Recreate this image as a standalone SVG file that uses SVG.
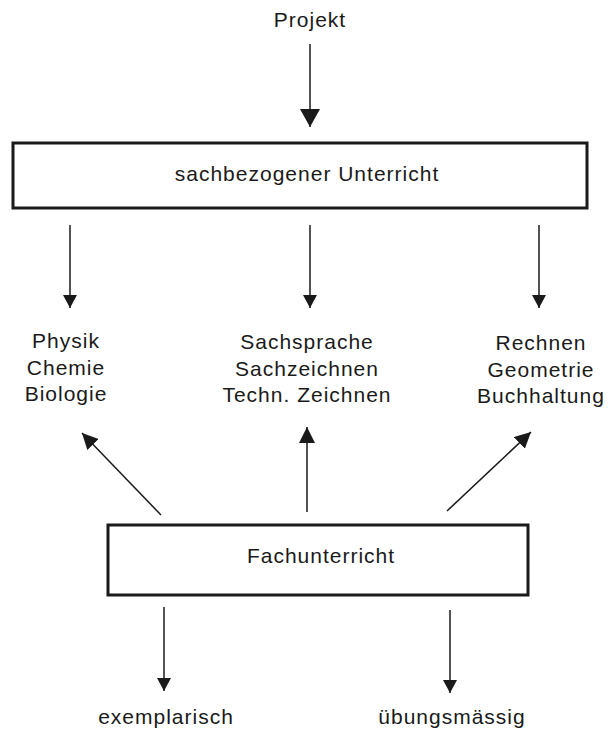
<svg xmlns="http://www.w3.org/2000/svg" width="615" height="729" viewBox="0 0 615 729">
<style>
  .lbl { font-family: "Liberation Sans", Arial, sans-serif; font-size: 21px; letter-spacing: 1px; fill: #1a1a1a; text-anchor: middle; }
  .box { fill: #ffffff; stroke: #1a1a1a; stroke-width: 3; }
  .conn { stroke: #1a1a1a; stroke-width: 1.5; fill: none; }
</style>
<defs>
  <marker id="arrowBig" viewBox="0 0 18 20" refX="18" refY="10" markerWidth="18" markerHeight="20" markerUnits="userSpaceOnUse" orient="auto">
    <path d="M0,0 L18,10 L0,20 z" fill="#1a1a1a"/>
  </marker>
  <marker id="arrow" viewBox="0 0 13 14" refX="13" refY="7" markerWidth="13" markerHeight="14" markerUnits="userSpaceOnUse" orient="auto">
    <path d="M0,0 L13,7 L0,14 z" fill="#1a1a1a"/>
  </marker>
  <marker id="arrowUp" viewBox="0 0 16 16" refX="16" refY="8" markerWidth="16" markerHeight="16" markerUnits="userSpaceOnUse" orient="auto">
    <path d="M0,0 L16,8 L0,16 z" fill="#1a1a1a"/>
  </marker>
</defs>
<rect width="615" height="729" fill="#ffffff"/>

<g id="connectors">
  <line class="conn" x1="310" y1="44" x2="310" y2="127" marker-end="url(#arrowBig)"/>
  <line class="conn" x1="70" y1="225" x2="70" y2="308" marker-end="url(#arrow)"/>
  <line class="conn" x1="310" y1="225" x2="310" y2="308" marker-end="url(#arrow)"/>
  <line class="conn" x1="539" y1="225" x2="539" y2="308" marker-end="url(#arrow)"/>
  <line class="conn" x1="161" y1="515" x2="82" y2="433" marker-end="url(#arrowUp)"/>
  <line class="conn" x1="307" y1="512" x2="307" y2="427" marker-end="url(#arrowUp)"/>
  <line class="conn" x1="447" y1="511" x2="531" y2="432" marker-end="url(#arrowUp)"/>
  <line class="conn" x1="164" y1="607" x2="164" y2="691" marker-end="url(#arrow)"/>
  <line class="conn" x1="450" y1="610" x2="450" y2="693" marker-end="url(#arrow)"/>
</g>

<g id="projekt">
  <text class="lbl" x="310" y="27">Projekt</text>
</g>

<g id="sachbezogener-unterricht">
  <rect class="box" x="13" y="143" width="574" height="65"/>
  <text class="lbl" x="307" y="181">sachbezogener Unterricht</text>
</g>

<g id="naturwissenschaften">
  <text class="lbl" x="66" y="348">Physik</text>
  <text class="lbl" x="66" y="374.5">Chemie</text>
  <text class="lbl" x="66" y="401">Biologie</text>
</g>

<g id="sprache-zeichnen">
  <text class="lbl" x="307" y="349">Sachsprache</text>
  <text class="lbl" x="307" y="375.5">Sachzeichnen</text>
  <text class="lbl" x="307" y="402">Techn. Zeichnen</text>
</g>

<g id="mathematik">
  <text class="lbl" x="541" y="350">Rechnen</text>
  <text class="lbl" x="541" y="376.5">Geometrie</text>
  <text class="lbl" x="541" y="403">Buchhaltung</text>
</g>

<g id="fachunterricht">
  <rect class="box" x="108" y="525" width="420" height="70"/>
  <text class="lbl" x="321" y="563">Fachunterricht</text>
</g>

<g id="exemplarisch">
  <text class="lbl" x="166" y="724">exemplarisch</text>
</g>

<g id="uebungsmaessig">
  <text class="lbl" x="452" y="724">übungsmässig</text>
</g>
</svg>
